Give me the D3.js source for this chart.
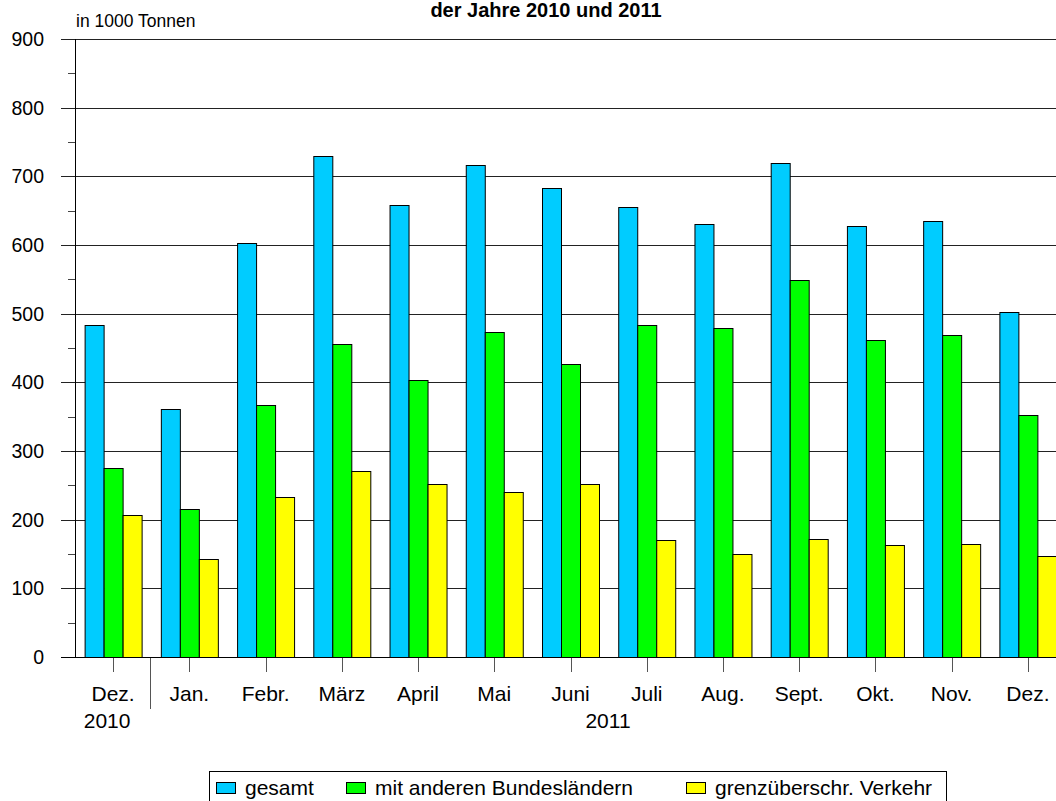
<!DOCTYPE html>
<html lang="de">
<head>
<meta charset="UTF-8">
<script src="https://cdn.jsdelivr.net/npm/d3@7"></script>
<style>
  body { margin: 0; background: #fff; }
  svg { display: block; font-family: "Liberation Sans", Arial, sans-serif; }
  .grid line { stroke: #222; stroke-width: 1px; }
  .bar { stroke: #000; stroke-width: 1px; }
</style>
</head>
<body>
<script>
// months shown on the x axis
var months = ["Dez.", "Jan.", "Febr.", "März", "April", "Mai", "Juni",
              "Juli", "Aug.", "Sept.", "Okt.", "Nov.", "Dez."];
var series = ["gesamt", "mit anderen Bundesländern", "grenzüberschr. Verkehr"];
var colors = ["#00CCFF", "#00FF00", "#FFFF00"];

// values in 1000 t
var gesamt =  [483, 361, 603, 729, 658, 717, 683, 655, 630, 720, 627, 635, 502];
var laender = [275, 215, 367, 456, 403, 473, 427, 484, 479, 549, 462, 469, 352];
var grenz =   [207, 143, 233, 271, 252, 241, 252, 171, 150, 172, 163, 165, 147];
var yTicks = [0, 100, 200, 300, 400, 500, 600, 700, 800, 900];
var yMinor = [50, 150, 250, 350, 450, 550, 650, 750, 850];

var width = 1056, height = 801;
var svg = d3.select("body").append("svg")
    .attr("width", width).attr("height", height);

var axisX = 75.5;
var x = d3.scaleBand().domain(d3.range(months.length)).range([75, 1066]).padding(0);
var y = d3.scaleLinear().domain([0, 900]).range([657, 39]);

// horizontal grid lines, they start left of the axis like long ticks
svg.append("g").attr("class", "grid")
  .selectAll("line").data(yTicks).enter().append("line")
    .attr("x1", 61).attr("x2", width)
    .attr("y1", function(d) { return Math.round(y(d)) + 0.5; })
    .attr("y2", function(d) { return Math.round(y(d)) + 0.5; });

// minor ticks
svg.append("g").selectAll("line").data(yMinor).enter().append("line")
    .attr("x1", 68).attr("x2", axisX)
    .attr("y1", function(d) { return Math.round(y(d)) + 0.5; })
    .attr("y2", function(d) { return Math.round(y(d)) + 0.5; })
    .attr("stroke", "#444");

// y tick labels
svg.append("g").selectAll("text").data(yTicks).enter().append("text")
    .attr("x", 44).attr("y", function(d) { return y(d); })
    .attr("dy", "0.36em")
    .attr("text-anchor", "end")
    .attr("font-size", "19.5px")
    .text(function(d) { return d; });

// bars
var data = months.map(function(m, i) { return [gesamt[i], laender[i], grenz[i]]; });
var barW = 19;
var groups = svg.append("g").selectAll("g").data(data).enter().append("g")
    .attr("transform", function(d, i) {
        return "translate(" + (x(i) + x.bandwidth() / 2 - 1.5 * barW) + ",0)";
    });
groups.selectAll("rect").data(function(d) { return d; }).enter().append("rect")
    .attr("class", "bar")
    .attr("x", function(d, j) { return j * barW + 0.5; })
    .attr("width", barW)
    .attr("y", function(d) { return Math.round(y(d)) + 0.5; })
    .attr("height", function(d) { return y(0) - Math.round(y(d)); })
    .attr("fill", function(d, j) { return colors[j]; });

// y axis line and zero line
svg.append("line").attr("x1", axisX).attr("x2", axisX).attr("y1", 39).attr("y2", 657.5)
    .attr("stroke", "#000");
svg.append("line").attr("x1", 61).attr("x2", width).attr("y1", 657.5).attr("y2", 657.5)
    .attr("stroke", "#000");

// category ticks
svg.append("g").selectAll("line").data(d3.range(months.length)).enter().append("line")
    .attr("x1", function(i) { return Math.round(x(i) + x.bandwidth() / 2) + 0.5; })
    .attr("x2", function(i) { return Math.round(x(i) + x.bandwidth() / 2) + 0.5; })
    .attr("y1", 658).attr("y2", 672)
    .attr("stroke", "#555");

// separator between 2010 and 2011
svg.append("line")
    .attr("x1", Math.round(x(1)) - 0.5).attr("x2", Math.round(x(1)) - 0.5)
    .attr("y1", 658).attr("y2", 709)
    .attr("stroke", "#555");

// month labels
svg.append("g").selectAll("text").data(months).enter().append("text")
    .attr("x", function(d, i) { return x(i) + x.bandwidth() / 2; })
    .attr("y", 701)
    .attr("text-anchor", "middle")
    .attr("font-size", "21px")
    .text(function(d) { return d; });

svg.append("text").attr("x", x(0) + x.bandwidth() / 2 - 6).attr("y", 728)
    .attr("text-anchor", "middle").attr("font-size", "21px").text("2010");
svg.append("text").attr("x", 608).attr("y", 728)
    .attr("text-anchor", "middle").attr("font-size", "21px").text("2011");

// unit and title
svg.append("text").attr("x", 76).attr("y", 27)
    .attr("font-size", "17.5px").text("in 1000 Tonnen");
svg.append("text").attr("x", 546).attr("y", 17)
    .attr("text-anchor", "middle").attr("font-size", "20px").attr("font-weight", "bold")
    .text("der Jahre 2010 und 2011");

// legend
var legend = svg.append("g");
legend.append("rect")
    .attr("x", 209.5).attr("y", 771.5).attr("width", 737).attr("height", 40)
    .attr("fill", "none").attr("stroke", "#000");
var legX = [216, 346, 686];
var item = legend.selectAll("g.item").data(series).enter().append("g")
    .attr("class", "item")
    .attr("transform", function(d, i) { return "translate(" + legX[i] + ",0)"; });
item.append("rect")
    .attr("x", 0.5).attr("y", 782.5).attr("width", 19).attr("height", 11)
    .attr("fill", function(d, i) { return colors[i]; })
    .attr("stroke", "#000");
item.append("text")
    .attr("x", 29).attr("y", 795)
    .attr("font-size", "21px")
    .text(function(d) { return d; });
</script>
</body>
</html>
